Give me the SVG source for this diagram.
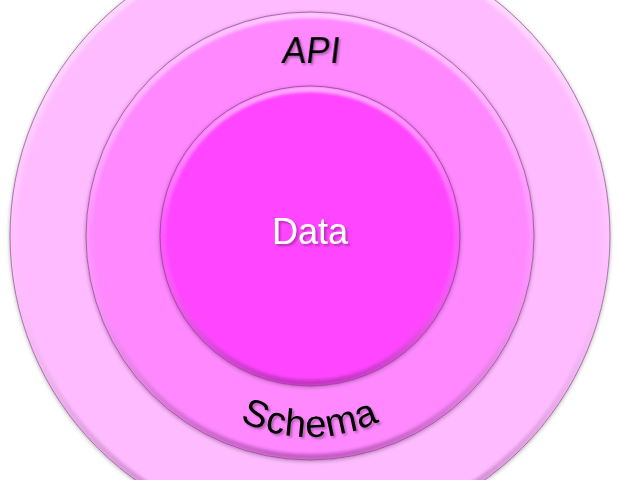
<svg xmlns="http://www.w3.org/2000/svg" width="618" height="480" viewBox="0 0 618 480">
  <style>
    .lbl { font-family: "Liberation Sans", Arial, sans-serif; font-size: 36px; }
    .dark { fill: #000000; filter: url(#tsh); }
    .light { fill: #ffffff; filter: url(#tsh); }
    .edge { fill: none; stroke: #7a3a7a; stroke-opacity: 0.6; stroke-width: 1; }
    .rim { fill: none; stroke: url(#rimGrad); stroke-width: 6; filter: url(#soft); }
  </style>
  <defs>
    <filter id="osh" x="-10%" y="-10%" width="120%" height="120%">
      <feGaussianBlur in="SourceAlpha" stdDeviation="2" result="b"/>
      <feOffset in="b" dx="0" dy="1" result="o"/>
      <feFlood flood-color="#000000" flood-opacity="0.35"/>
      <feComposite operator="in" in2="o" result="s"/>
      <feMerge><feMergeNode in="s"/><feMergeNode in="SourceGraphic"/></feMerge>
    </filter>
    <filter id="soft" x="-10%" y="-10%" width="120%" height="120%">
      <feGaussianBlur stdDeviation="1.5"/>
    </filter>
    <filter id="tsh" x="-20%" y="-30%" width="140%" height="160%">
      <feGaussianBlur in="SourceAlpha" stdDeviation="1.2" result="b"/>
      <feOffset in="b" dx="2" dy="2" result="o"/>
      <feFlood flood-color="#000000" flood-opacity="0.3"/>
      <feComposite operator="in" in2="o" result="s"/>
      <feMerge><feMergeNode in="s"/><feMergeNode in="SourceGraphic"/></feMerge>
    </filter>
    <linearGradient id="rimGrad" x1="0" y1="0" x2="0" y2="1">
      <stop offset="0" stop-color="#ffffff" stop-opacity="0.55"/>
      <stop offset="0.5" stop-color="#ffffff" stop-opacity="0.1"/>
      <stop offset="1" stop-color="#6a1a6a" stop-opacity="0.4"/>
    </linearGradient>
    <clipPath id="cOuter"><circle cx="310" cy="236" r="300"/></clipPath>
    <clipPath id="cMid"><circle cx="310" cy="236" r="224"/></clipPath>
    <clipPath id="cIn"><circle cx="310" cy="236" r="150"/></clipPath>
    <path id="schemaArc" d="M 150 277 A 160 160 0 0 0 470 277"/>
  </defs>
  <rect width="618" height="480" fill="#ffffff"/>

  <g id="outer">
    <circle cx="310" cy="236" r="300" fill="#ffbbff" filter="url(#osh)"/>
    <circle class="rim" cx="310" cy="236" r="297" clip-path="url(#cOuter)"/>
    <circle class="edge" cx="310" cy="236" r="300"/>
  </g>

  <g id="schema-ring">
    <circle cx="310" cy="236" r="224" fill="#ff88ff" filter="url(#osh)"/>
    <circle class="rim" cx="310" cy="236" r="221" clip-path="url(#cMid)"/>
    <circle class="edge" cx="310" cy="236" r="224"/>
    <text class="lbl dark" style="font-size:38px"><textPath href="#schemaArc" startOffset="50%" text-anchor="middle" letter-spacing="1">Schema</textPath></text>
  </g>

  <g id="api-label">
    <text class="lbl dark" transform="translate(310,63) skewX(-7)" x="0" y="0" text-anchor="middle" style="font-size:36px">API</text>
  </g>

  <g id="data">
    <circle cx="310" cy="236" r="150" fill="#ff44ff" filter="url(#osh)"/>
    <circle class="rim" cx="310" cy="236" r="147" clip-path="url(#cIn)"/>
    <circle class="edge" cx="310" cy="236" r="150"/>
    <text class="lbl light" x="310" y="244" text-anchor="middle">Data</text>
  </g>

  <g id="connectors"></g>
</svg>
